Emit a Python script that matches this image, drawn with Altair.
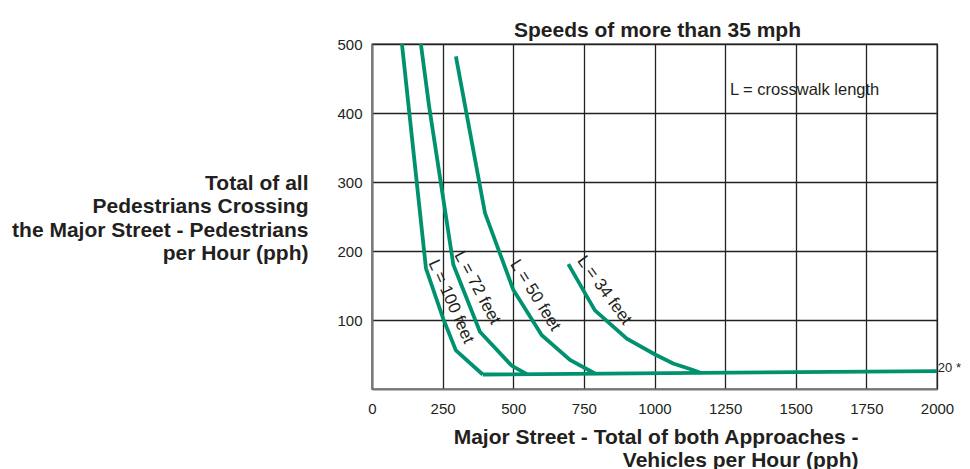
import altair as alt
import pandas as pd

# Curves (x = vehicles/hour, y = pedestrians/hour)
x100 = [106, 191, 252, 297, 392]
y100 = [500, 175, 102, 56, 21]
x72 = [173, 202, 288, 382, 494, 548]
y72 = [500, 410, 180, 83, 34, 21.5]
x50 = [297, 400, 500, 601, 701, 789]
y50 = [482, 255, 144, 78, 42, 22.5]
x34 = [695, 789, 902, 1002, 1066, 1126, 1161]
y34 = [181, 114, 73, 50, 37, 29, 24]
xbase = [392, 2000]
ybase = [21, 26]

label_text = ["L = 100 feet", "L = 72 feet", "L = 50 feet", "L = 34 feet"]
label_x = [215, 306, 503, 739]
label_y = [186, 198, 185, 190]
label_angle = [66, 62, 58, 54]

legend_note = ["L = crosswalk length"]
legend_x = [1267]
legend_y = [434]

end_note = ["20 *"]
end_x = [2003]
end_y = [31]

x_ticks = [0, 250, 500, 750, 1000, 1250, 1500, 1750, 2000]
y_ticks = [100, 200, 300, 400, 500]

rows = []
for name, xs, ys in [("L100", x100, y100), ("L72", x72, y72), ("L50", x50, y50),
                     ("L34", x34, y34), ("base", xbase, ybase)]:
    for i, (a, b) in enumerate(zip(xs, ys)):
        rows.append({"series": name, "order": i, "x": a, "y": b})
lines_df = pd.DataFrame(rows)
labels_df = pd.DataFrame({"text": label_text, "x": label_x, "y": label_y, "angle": label_angle})
legend_df = pd.DataFrame({"text": legend_note, "x": legend_x, "y": legend_y})
end_df = pd.DataFrame({"text": end_note, "x": end_x, "y": end_y})

GREEN = "#00926F"
INK = "#231F20"
FONT = "Liberation Sans"

xscale = alt.Scale(domain=[0, 2000], nice=False, zero=False)
yscale = alt.Scale(domain=[0, 500], nice=False, zero=False)

xaxis = alt.Axis(
    values=x_ticks, format="d",
    title=["Major Street - Total of both Approaches -", "Vehicles per Hour (pph)"],
    titleAlign="right", titleX=486, titleY=54, titleBaseline="alphabetic",
    titleLineHeight=23, labelPadding=12, labelFlush=False,
)
yaxis = alt.Axis(
    values=y_ticks, format="d",
    title=["Total of all", "Pedestrians Crossing", "the Major Street - Pedestrians", "per Hour (pph)"],
    titleAngle=0, titleAlign="right", titleX=-64, titleY=145, titleBaseline="alphabetic",
    titleLineHeight=23.5, labelPadding=10,
)

lines = alt.Chart(lines_df).mark_line(color=GREEN, strokeWidth=3.8, strokeJoin="miter").encode(
    x=alt.X("x:Q", scale=xscale, axis=xaxis),
    y=alt.Y("y:Q", scale=yscale, axis=yaxis),
    detail="series:N",
    order="order:Q",
)

labels = alt.Chart(labels_df).mark_text(
    align="left", baseline="middle", fontSize=17, font=FONT, color=INK
).encode(
    x="x:Q", y="y:Q", text="text:N", angle=alt.Angle("angle:Q", scale=None)
)

legend_txt = alt.Chart(legend_df).mark_text(
    align="left", baseline="middle", fontSize=16.5, font=FONT, color=INK
).encode(x="x:Q", y="y:Q", text="text:N")

end_txt = alt.Chart(end_df).mark_text(
    align="left", baseline="middle", fontSize=13, font=FONT, color=INK
).encode(x="x:Q", y="y:Q", text="text:N")

chart = alt.layer(lines, labels, legend_txt, end_txt).properties(
    width=565, height=345,
    title=alt.TitleParams("Speeds of more than 35 mph", fontSize=21, fontWeight="bold",
                          font=FONT, color=INK, anchor="middle", offset=6, dx=3, dy=11),
    autosize=alt.AutoSizeParams(type="none"),
    padding={"left": 364, "top": 36, "right": 25, "bottom": 80},
).configure_view(
    stroke="#222222", strokeWidth=1.3
).configure_axis(
    grid=True, gridColor="#222222", gridWidth=1.3, gridOpacity=1,
    domainColor="#777777", domainWidth=2, ticks=False, tickSize=0,
    labelFont=FONT, labelFontSize=15, labelColor=INK,
    titleFont=FONT, titleFontSize=21, titleFontWeight="bold", titleColor=INK,
)

chart.save("out.html", embed_options={"renderer": "svg", "actions": False})
